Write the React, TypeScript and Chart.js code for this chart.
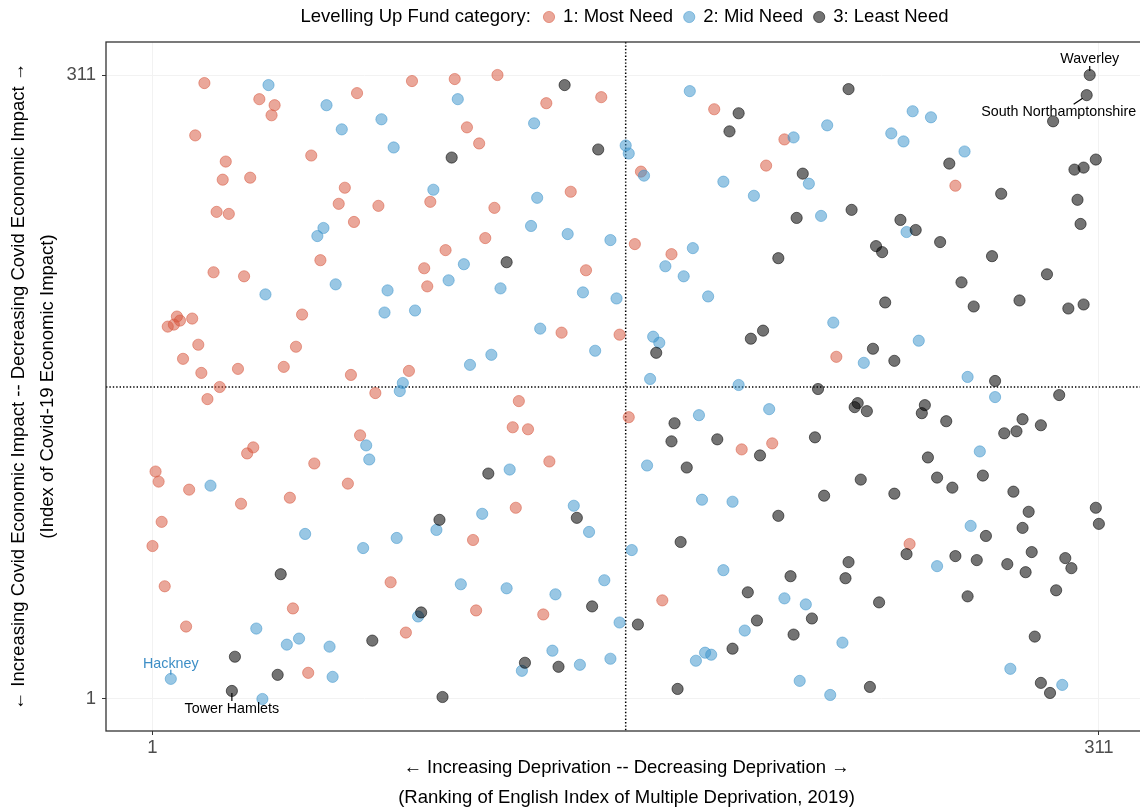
import React, { useEffect, useRef } from "react";
import { Chart, registerables } from "chart.js";

Chart.register(...registerables);

// ---------------- DATA ----------------
const categories = ["1: Most Need", "2: Mid Need", "3: Least Need"];
const legendTitle = "Levelling Up Fund category:";
const xTicks = [1, 311];
const yTicks = [1, 311];
const medianRank = 156;

const xTitleLines = [
  "\u2190 Increasing Deprivation -- Decreasing Deprivation \u2192",
  "(Ranking of English Index of Multiple Deprivation, 2019)",
];
const yTitleLines = [
  "\u2190 Increasing Covid Economic Impact -- Decreasing Covid Economic Impact \u2192",
  "(Index of Covid-19 Economic Impact)",
];

const mostNeedX = [18,36,41,40,68,15,53,25,24,33,64,62,22,26,67,56,21,31,86,100,114,148,130,104,108,92,75,113,138,110,97,90,143,185,208,202,161,264,159,171,9,6,8,10,14,50,16,48,11,17,29,44,66,23,19,69,34,32,54,2,3,13,65,30,46,91,135,154,85,74,121,157,119,124,131,225,194,204,120,4,1,5,47,12,52,106,79,107,129,84,168,249];
const mostNeedY = [307,299,296,291,302,281,271,268,259,260,255,247,243,242,238,219,213,211,308,309,311,300,297,285,277,248,246,245,253,230,224,215,214,294,279,266,263,256,227,222,191,186,187,189,190,192,177,176,170,163,165,166,162,156,150,132,126,123,118,114,109,105,108,98,101,206,183,182,164,153,149,141,136,135,119,171,125,128,96,89,77,57,46,37,14,80,59,45,43,34,50,78];

const midNeedX = [39,58,63,57,55,101,76,126,80,156,157,93,127,125,137,151,103,98,177,222,211,162,216,188,198,220,178,169,175,250,256,243,247,267,248,38,61,71,72,20,78,115,77,87,142,153,128,146,112,105,83,82,118,139,183,224,165,167,234,164,193,180,203,163,181,191,252,268,277,272,51,70,35,45,49,59,7,60,37,94,109,144,81,102,117,133,149,88,154,132,122,141,151,158,188,208,215,195,227,182,184,179,213,223,269,258,282,299];
const midNeedY = [306,296,284,235,231,299,289,287,275,276,272,254,250,236,232,229,217,209,303,286,280,261,257,258,251,241,225,216,211,293,290,282,278,273,233,202,207,127,120,107,204,205,193,194,203,200,185,174,172,167,158,154,115,97,201,188,181,178,168,160,157,142,145,117,100,99,179,161,151,124,83,76,36,28,31,27,11,12,1,85,93,84,81,58,56,53,60,42,39,25,15,18,21,75,65,51,48,35,29,24,23,20,10,3,87,67,16,8];

const leastNeedX = [136,99,147,117,193,190,229,214,212,230,206,238,240,308,307,296,262,279,310,306,303,304,305,246,251,259,276,294,266,241,197,201,166,237,219,232,231,235,172,171,186,200,218,176,233,221,244,270,285,301,306,244,277,298,254,253,261,286,292,280,284,255,258,263,273,283,310,288,111,43,28,42,27,73,95,140,145,89,123,134,96,206,174,229,210,228,196,239,160,199,217,211,191,173,236,311,286,274,248,264,271,281,289,287,300,302,297,268,290,292,295];
const leastNeedY = [306,270,274,218,292,283,304,262,240,244,220,226,223,311,301,288,267,252,269,265,264,249,237,239,234,228,221,212,208,198,180,184,173,175,155,148,146,144,138,129,130,122,131,116,110,102,103,196,199,195,197,169,159,152,147,143,139,140,137,133,134,121,111,106,112,104,96,94,113,63,22,13,5,30,90,91,47,44,19,17,2,92,79,69,62,61,54,49,38,40,41,33,26,6,7,88,86,82,73,72,70,68,74,64,71,66,55,52,32,9,4];

const labelNames = ["Waverley", "South Northamptonshire", "Hackney", "Tower Hamlets"];
const labelX = [308, 307, 7, 27];
const labelY = [311, 301, 11, 5];
const labelCategory = [3, 3, 2, 3];

// ---------------- STYLE ----------------
const FONT = '"Liberation Sans", Arial, Helvetica, sans-serif';
const fillColors = ["rgba(214,86,62,0.52)", "rgba(60,148,204,0.52)", "rgba(0,0,0,0.55)"];
const labelTextColors = ["#c9553f", "#3d8ec6", "#000000"];
const POINT_R = 5.6;
const TEXT_SIZE = 18.5;

// label placement offsets in px: [textDx, textDy, lineX1, lineY1, lineX2, lineY2]
const labelOffsets: Record<string, number[]> = {
  "Waverley": [0, -16, 0, -9, 0, -4],
  "South Northamptonshire": [-28, 17, -13, 9, -4, 3],
  "Hackney": [0, -15, 0, -9, 0, -4],
  "Tower Hamlets": [0, 18, 0, 2, 0, 10],
};

function toPoints(xs: number[], ys: number[]) {
  return xs.map((x, i) => ({ x, y: ys[i] }));
}

const overlayPlugin = {
  id: "overlay",
  beforeDatasetsDraw(chart: any) {
    const { ctx, chartArea, scales } = chart;
    ctx.save();
    ctx.beginPath();
    ctx.rect(chartArea.left, chartArea.top, chartArea.right - chartArea.left, chartArea.bottom - chartArea.top);
    ctx.clip();
    ctx.strokeStyle = "#000";
    ctx.lineWidth = 1.5;
    ctx.setLineDash([1.4, 2]);
    const mx = scales.x.getPixelForValue(medianRank);
    ctx.beginPath();
    ctx.moveTo(mx, chartArea.top);
    ctx.lineTo(mx, chartArea.bottom);
    ctx.stroke();
    const my = scales.y.getPixelForValue(medianRank);
    ctx.beginPath();
    ctx.moveTo(chartArea.left, my);
    ctx.lineTo(chartArea.right, my);
    ctx.stroke();
    ctx.restore();
  },
  afterDraw(chart: any) {
    const { ctx, chartArea, scales, width } = chart;
    const xs = scales.x, ys = scales.y;
    ctx.save();

    // panel border (right side lies beyond the canvas)
    ctx.strokeStyle = "#333333";
    ctx.lineWidth = 1.3;
    ctx.strokeRect(chartArea.left, chartArea.top, width + 10 - chartArea.left, chartArea.bottom - chartArea.top);

    // point labels
    ctx.font = `14.3px ${FONT}`;
    ctx.textAlign = "center";
    ctx.textBaseline = "middle";
    labelNames.forEach((name, i) => {
      const px = xs.getPixelForValue(labelX[i]);
      const py = ys.getPixelForValue(labelY[i]);
      const o = labelOffsets[name];
      const col = labelTextColors[labelCategory[i] - 1];
      ctx.strokeStyle = col;
      ctx.lineWidth = 1.2;
      ctx.beginPath();
      ctx.moveTo(px + o[2], py + o[3]);
      ctx.lineTo(px + o[4], py + o[5]);
      ctx.stroke();
      ctx.fillStyle = col;
      ctx.fillText(name, px + o[0], py + o[1]);
    });

    // axis titles
    const panelCenterX = chartArea.left + 1041 / 2;
    const panelCenterY = (chartArea.top + chartArea.bottom) / 2;
    ctx.fillStyle = "#000";
    ctx.font = `${TEXT_SIZE}px ${FONT}`;
    ctx.fillText(xTitleLines[0], panelCenterX, 768);
    ctx.fillText(xTitleLines[1], panelCenterX, 798);
    ctx.save();
    ctx.translate(19, panelCenterY);
    ctx.rotate(-Math.PI / 2);
    ctx.fillText(yTitleLines[0], 0, 0);
    ctx.restore();
    ctx.save();
    ctx.translate(48, panelCenterY);
    ctx.rotate(-Math.PI / 2);
    ctx.fillText(yTitleLines[1], 0, 0);
    ctx.restore();

    // legend
    ctx.font = `${TEXT_SIZE}px ${FONT}`;
    ctx.textAlign = "left";
    const gapTitle = 12.5, diam = 2 * POINT_R, gapText = 8.5, gapItem = 10.5;
    let total = ctx.measureText(legendTitle).width;
    categories.forEach((c) => {
      total += gapTitle + diam + gapText + ctx.measureText(c).width;
    });
    let cx = panelCenterX - total / 2;
    const ly = 17;
    ctx.fillStyle = "#000";
    ctx.fillText(legendTitle, cx, ly);
    cx += ctx.measureText(legendTitle).width + gapTitle;
    categories.forEach((c, i) => {
      ctx.beginPath();
      ctx.arc(cx + POINT_R, ly, POINT_R, 0, Math.PI * 2);
      ctx.fillStyle = fillColors[i];
      ctx.fill();
      ctx.strokeStyle = fillColors[i];
      ctx.lineWidth = 1;
      ctx.stroke();
      cx += diam + gapText;
      ctx.fillStyle = "#000";
      ctx.fillText(c, cx, ly);
      cx += ctx.measureText(c).width + gapItem;
    });

    ctx.restore();
  },
};

export default function App() {
  const ref = useRef<HTMLCanvasElement | null>(null);
  useEffect(() => {
    document.body.style.margin = "0";
    const canvas = ref.current;
    if (!canvas) return;
    const mk = (label: string, xs: number[], ys: number[], i: number, order: number) => ({
      label,
      data: toPoints(xs, ys),
      backgroundColor: fillColors[i],
      borderColor: fillColors[i],
      borderWidth: 1,
      pointRadius: POINT_R,
      pointHoverRadius: POINT_R,
      order,
    });
    const chart = new Chart(canvas, {
      type: "scatter",
      data: {
        datasets: [
          mk(categories[0], mostNeedX, mostNeedY, 0, 3),
          mk(categories[1], midNeedX, midNeedY, 1, 2),
          mk(categories[2], leastNeedX, leastNeedY, 2, 1),
        ],
      },
      options: {
        responsive: false,
        animation: false,
        devicePixelRatio: 1,
        layout: { autoPadding: false, padding: { top: 42, left: 0, right: 0, bottom: 0 } },
        plugins: { legend: { display: false }, tooltip: { enabled: false } },
        events: [],
        scales: {
          x: {
            type: "linear",
            min: -14.23,
            max: 324.47,
            afterBuildTicks: (s: any) => { s.ticks = xTicks.map((v) => ({ value: v })); },
            afterFit: (s: any) => { s.height = 78; },
            ticks: { font: { family: FONT, size: TEXT_SIZE }, color: "#4d4d4d", padding: 2, maxRotation: 0, autoSkip: false },
            grid: { color: "#f2f2f2", lineWidth: 1, tickColor: "#333333", tickLength: 4 },
            border: { display: false },
          },
          y: {
            type: "linear",
            min: -14.9,
            max: 327.4,
            afterBuildTicks: (s: any) => { s.ticks = yTicks.map((v) => ({ value: v })); },
            afterFit: (s: any) => { s.width = 106; },
            ticks: { font: { family: FONT, size: TEXT_SIZE }, color: "#4d4d4d", padding: 6, autoSkip: false },
            grid: { color: "#f2f2f2", lineWidth: 1, tickColor: "#333333", tickLength: 4 },
            border: { display: false },
          },
        },
      },
      plugins: [overlayPlugin],
    });
    return () => chart.destroy();
  }, []);
  return (
    <div style={{ width: 1140, height: 809 }}>
      <canvas ref={ref} width={1140} height={809} />
    </div>
  );
}
